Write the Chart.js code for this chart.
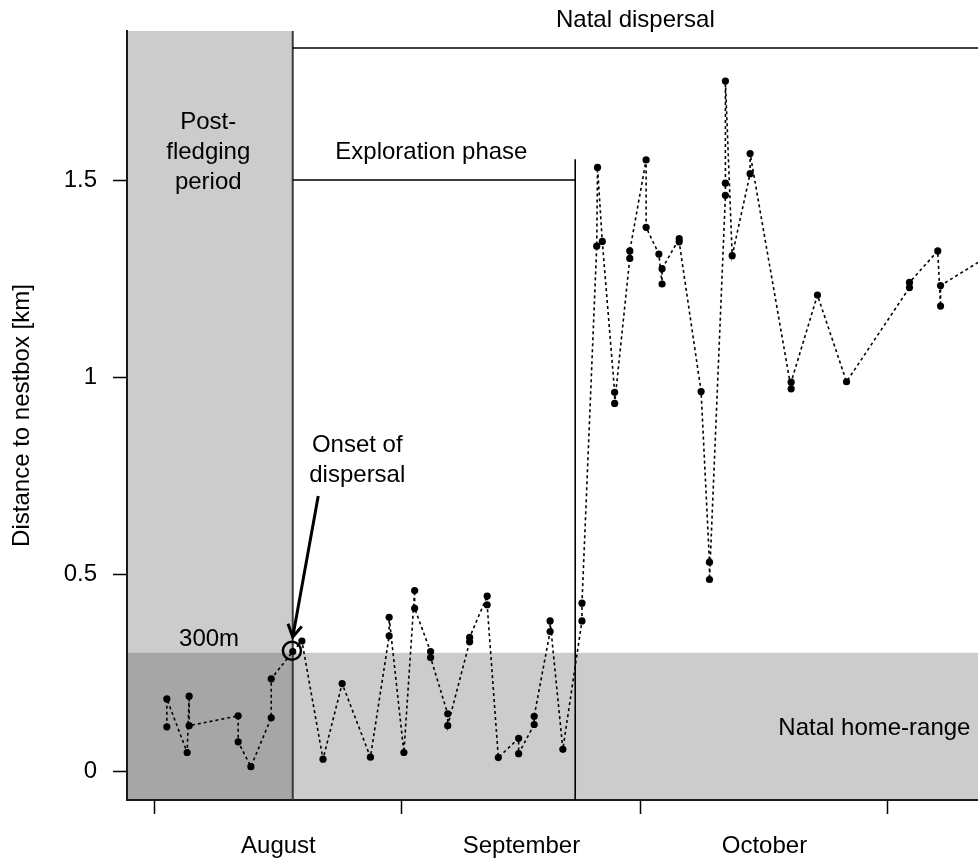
<!DOCTYPE html>
<html>
<head>
<meta charset="utf-8">
<script src="https://cdn.jsdelivr.net/npm/chart.js@4.4.1/dist/chart.umd.min.js"></script>
<style>
  html, body { margin: 0; padding: 0; background: #ffffff; }
  #wrap { width: 978px; height: 861px; }
</style>
</head>
<body>
<div id="wrap"><canvas id="c" width="978" height="861"></canvas></div>
<script>
// Tracking fixes: days since 1 August, distance to the nestbox in km (in time order)
const days = [
  1.5, 1.5, 4.05, 4.3, 4.3, 10.45, 10.45, 12.05, 14.6, 14.6,
  17.3, 18.45, 21.1, 23.5, 27.05, 29.4, 29.4, 31.25, 32.6, 32.6,
  34.6, 34.6, 36.75, 36.75, 39.5, 39.5, 41.7, 41.7, 43.1, 45.65,
  45.65, 47.6, 47.6, 49.6, 49.6, 51.2, 53.6, 53.6, 55.45, 55.55,
  56.15, 57.7, 57.7, 59.6, 59.6, 61.65, 61.65, 63.25, 63.65, 63.65,
  65.8, 65.8, 68.55, 69.6, 69.6, 71.6, 71.6, 71.6, 72.45, 74.7,
  74.7, 79.85, 79.85, 83.15, 86.8, 94.7, 94.7, 98.25, 98.6, 98.6,
  107
];
const distanceKm = [
  0.112, 0.183, 0.047, 0.190, 0.115, 0.140, 0.074, 0.011, 0.135, 0.234,
  0.303, 0.330, 0.030, 0.222, 0.035, 0.343, 0.390, 0.047, 0.458, 0.413,
  0.303, 0.288, 0.145, 0.115, 0.328, 0.339, 0.444, 0.422, 0.034, 0.083,
  0.044, 0.118, 0.139, 0.354, 0.381, 0.055, 0.381, 0.426, 1.332, 1.532,
  1.344, 0.961, 0.933, 1.301, 1.320, 1.551, 1.380, 1.312, 1.236, 1.275,
  1.351, 1.343, 0.963, 0.530, 0.486, 1.461, 1.492, 1.751, 1.308, 1.516,
  1.567, 0.970, 0.987, 1.208, 0.988, 1.227, 1.240, 1.320, 1.180, 1.232,
  1.337
];

// Axis ticks
const monthStarts = [0, 31, 61, 92];
const monthMids = [15.5, 46, 76.5];
const monthNames = ['August', 'September', 'October'];
const yTicks = [0, 0.5, 1, 1.5];

// Phases (days since 1 August) and reference distances (km)
const onsetDay = 17.3;
const explorationEndDay = 52.75;
const homeRangeKm = 0.3;
const dispersalLineKm = 1.835;
const explorationLineKm = 1.5;
const explorationTopKm = 1.553;
const onsetKm = 0.305;

const FONT = '24px "Liberation Sans", Arial, sans-serif';

const phasePlugin = {
  id: 'phases',
  beforeDraw(chart) {
    const {ctx, chartArea: a, scales: {x, y}} = chart;
    const xo = x.getPixelForValue(onsetDay);
    const yh = y.getPixelForValue(homeRangeKm);
    ctx.save();
    ctx.fillStyle = '#ffffff';
    ctx.fillRect(0, 0, chart.width, chart.height);
    // post-fledging period
    ctx.fillStyle = '#cccccc';
    ctx.fillRect(a.left, a.top, xo - a.left, a.bottom - a.top);
    // natal home-range band
    ctx.fillRect(xo, yh, a.right - xo, a.bottom - yh);
    // overlap of both
    ctx.fillStyle = '#a6a6a6';
    ctx.fillRect(a.left, yh, xo - a.left, a.bottom - yh);
    ctx.restore();
  },
  beforeDatasetsDraw(chart) {
    const {ctx, chartArea: a, scales: {x, y}} = chart;
    const xo = x.getPixelForValue(onsetDay);
    const xe = x.getPixelForValue(explorationEndDay);
    ctx.save();
    // boundary of post-fledging period
    ctx.strokeStyle = '#3a3a3a';
    ctx.lineWidth = 2;
    ctx.beginPath();
    ctx.moveTo(xo, a.top);
    ctx.lineTo(xo, a.bottom);
    ctx.stroke();
    ctx.strokeStyle = '#000000';
    ctx.lineWidth = 1.6;
    ctx.beginPath();
    // natal dispersal span
    ctx.moveTo(xo, y.getPixelForValue(dispersalLineKm));
    ctx.lineTo(a.right, y.getPixelForValue(dispersalLineKm));
    // exploration phase span
    ctx.moveTo(xo, y.getPixelForValue(explorationLineKm));
    ctx.lineTo(xe, y.getPixelForValue(explorationLineKm));
    // end of exploration
    ctx.moveTo(xe, y.getPixelForValue(explorationTopKm));
    ctx.lineTo(xe, a.bottom);
    ctx.stroke();
    ctx.restore();
  },
  afterDatasetsDraw(chart) {
    const {ctx, scales: {x, y}} = chart;
    const px = v => x.getPixelForValue(v);
    const py = v => y.getPixelForValue(v);
    ctx.save();
    ctx.fillStyle = '#000000';
    ctx.font = FONT;
    ctx.textAlign = 'center';
    ctx.textBaseline = 'middle';
    ctx.fillText('Natal dispersal', px(60.3), py(1.906));
    ctx.fillText('Exploration phase', px(34.7), py(1.571));
    ctx.fillText('Post-', px(6.7), py(1.647));
    ctx.fillText('fledging', px(6.7), py(1.571));
    ctx.fillText('period', px(6.7), py(1.495));
    ctx.fillText('Onset of', px(25.4), py(0.827));
    ctx.fillText('dispersal', px(25.4), py(0.751));
    ctx.fillText('300m', px(6.8), py(0.335));
    ctx.fillText('Natal home-range', px(90.3), py(0.109));

    // onset marker
    ctx.strokeStyle = '#000000';
    ctx.lineWidth = 2.5;
    ctx.beginPath();
    ctx.arc(px(17.2), py(onsetKm), 9, 0, Math.PI * 2);
    ctx.stroke();

    // arrow pointing at the onset
    const x0 = px(20.5), y0 = py(0.698), x1 = px(17.3), y1 = py(0.340);
    ctx.lineWidth = 3;
    ctx.beginPath();
    ctx.moveTo(x0, y0);
    ctx.lineTo(x1, y1);
    const ang = Math.atan2(y1 - y0, x1 - x0);
    const L = 14, spread = Math.PI / 6;
    ctx.moveTo(x1 - L * Math.cos(ang - spread), y1 - L * Math.sin(ang - spread));
    ctx.lineTo(x1, y1);
    ctx.lineTo(x1 - L * Math.cos(ang + spread), y1 - L * Math.sin(ang + spread));
    ctx.stroke();
    ctx.restore();
  }
};

new Chart(document.getElementById('c'), {
  type: 'line',
  data: {
    datasets: [{
      data: days.map((d, i) => ({x: d, y: distanceKm[i]})),
      borderColor: '#000000',
      borderWidth: 1.6,
      borderDash: [3, 3],
      pointRadius: 3.6,
      pointBackgroundColor: '#000000',
      pointBorderWidth: 0,
      tension: 0,
      fill: false
    }]
  },
  options: {
    responsive: false,
    devicePixelRatio: 1,
    animation: false,
    layout: {autoPadding: false, padding: {top: 31, right: 0, bottom: 0, left: 0}},
    plugins: {legend: {display: false}, tooltip: {enabled: false}},
    scales: {
      x: {
        type: 'linear',
        min: -3.5,
        max: 103.3,
        afterBuildTicks(scale) {
          scale.ticks = monthStarts.concat(monthMids).sort((a, b) => a - b).map(v => ({value: v}));
        },
        afterFit(scale) { scale.height = 61; },
        ticks: {
          autoSkip: false,
          maxRotation: 0,
          padding: 18,
          color: '#000000',
          font: {family: '"Liberation Sans", Arial, sans-serif', size: 24},
          callback(v) {
            const i = monthMids.indexOf(v);
            return i >= 0 ? monthNames[i] : '';
          }
        },
        grid: {
          drawOnChartArea: false,
          drawTicks: true,
          tickLength: 14,
          tickWidth: 1.5,
          tickColor: ctx => (ctx.tick && monthStarts.includes(ctx.tick.value)) ? '#000000' : 'rgba(0,0,0,0)'
        },
        border: {display: true, color: '#1a1a1a', width: 2}
      },
      y: {
        type: 'linear',
        min: -0.0736,
        max: 1.8782,
        afterBuildTicks(scale) {
          scale.ticks = yTicks.map(v => ({value: v}));
        },
        afterFit(scale) { scale.width = 127; },
        ticks: {
          padding: 16,
          color: '#000000',
          font: {family: '"Liberation Sans", Arial, sans-serif', size: 24},
          callback: v => String(v)
        },
        grid: {
          drawOnChartArea: false,
          drawTicks: true,
          tickLength: 14,
          tickWidth: 1.5,
          tickColor: '#000000'
        },
        border: {display: true, color: '#1a1a1a', width: 2},
        title: {
          display: true,
          text: 'Distance to nestbox [km]',
          color: '#000000',
          font: {family: '"Liberation Sans", Arial, sans-serif', size: 24},
          padding: {top: 8, bottom: 0}
        }
      }
    }
  },
  plugins: [phasePlugin]
});
</script>
</body>
</html>
